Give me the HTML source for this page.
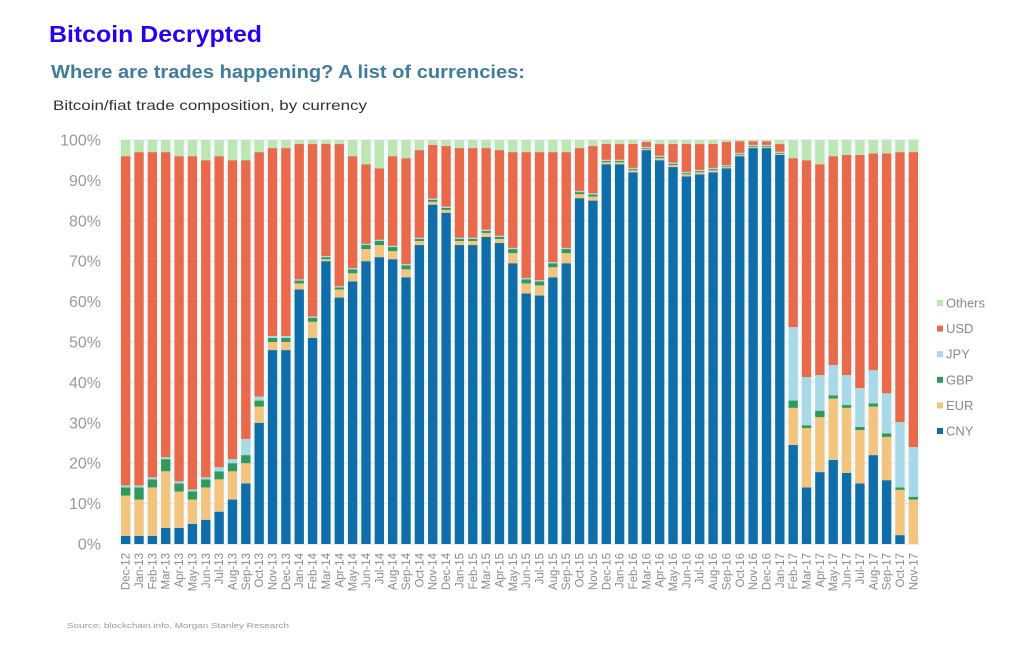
<!DOCTYPE html>
<html><head><meta charset="utf-8">
<style>
html,body{margin:0;padding:0;background:#fff;width:1012px;height:655px;overflow:hidden;font-family:"Liberation Sans",Arial,sans-serif;}
svg{display:block}
</style></head>
<body>
<svg id="chart" width="1012" height="655" viewBox="0 0 1012 655">
<text x="49" y="42" font-size="23" font-weight="bold" fill="#2a00f5" textLength="213" lengthAdjust="spacingAndGlyphs">Bitcoin Decrypted</text>
<text x="51" y="78" font-size="18" font-weight="bold" fill="#3f7c9e" textLength="474" lengthAdjust="spacingAndGlyphs">Where are trades happening? A list of currencies:</text>
<text x="53" y="110" font-size="14" fill="#333" textLength="314" lengthAdjust="spacingAndGlyphs">Bitcoin/fiat trade composition, by currency</text>
<text x="67" y="628" font-size="7.5" fill="#999" textLength="222" lengthAdjust="spacingAndGlyphs">Source: blockchain.info, Morgan Stanley Research</text>
<g id="grid"></g><g id="bars"></g><g id="ylabels"></g><g id="xlabels"></g><g id="legend"></g>
</svg>
<script>
const categories=["Dec-12","Jan-13","Feb-13","Mar-13","Apr-13","May-13","Jun-13","Jul-13","Aug-13","Sep-13","Oct-13","Nov-13","Dec-13","Jan-14","Feb-14","Mar-14","Apr-14","May-14","Jun-14","Jul-14","Aug-14","Sep-14","Oct-14","Nov-14","Dec-14","Jan-15","Feb-15","Mar-15","Apr-15","May-15","Jun-15","Jul-15","Aug-15","Sep-15","Oct-15","Nov-15","Dec-15","Jan-16","Feb-16","Mar-16","Apr-16","May-16","Jun-16","Jul-16","Aug-16","Sep-16","Oct-16","Nov-16","Dec-16","Jan-17","Feb-17","Mar-17","Apr-17","May-17","Jun-17","Jul-17","Aug-17","Sep-17","Oct-17","Nov-17"];
const cny=[2,2,2,4,4,5,6,8,11,15,30,48,48,63,51,70,61,65,70,71,70.5,66,74,84,82,74,74,76,74.5,69.5,62,61.5,66,69.5,85.6,85,94,94,92,97.5,95,93.3,91,91.5,92,93,96,98,98,96.3,24.5,14,17.8,20.8,17.6,15,22,15.8,2.2,0];
const eur=[10,9,12,14,9,6,8,8,7,5,4,2,2,1.5,4,0.5,2,2,3,3,2,2,1,0.7,0.7,1,1,1,1,2.5,2.5,2.5,2.5,2.5,1,1,0.5,0.5,0.5,0.3,0.5,0.5,0.5,0.5,0.5,0.3,0.3,0.3,0.3,0.3,9.2,14.7,13.6,15.2,16.1,13.2,12,10.7,11.2,11];
const gbp=[2,3,2,3,2,2,2,2,2,2,1.5,1,1,0.7,1,0.5,0.5,1,1,1,1,1,0.5,0.5,0.5,0.5,0.5,0.5,0.5,1,1,1,1,1,0.5,0.5,0.3,0.3,0.3,0.2,0.3,0.3,0.3,0.3,0.3,0.2,0.2,0.2,0.2,0.2,1.8,0.7,1.6,0.8,0.7,0.8,0.8,0.9,0.6,0.7];
const jpy=[0.5,0.5,0.5,0.5,0.5,0.5,0.5,1,1,4,1,0.5,0.5,0.3,0.3,0.3,0.3,0.3,0.3,0.3,0.3,0.3,0.3,0.3,0.3,0.3,0.3,0.3,0.3,0.3,0.3,0.3,0.3,0.3,0.3,0.3,0.3,0.3,0.3,0.3,0.3,0.3,0.3,0.3,0.3,0.3,0.3,0.3,0.3,0.3,18.2,11.9,8.8,7.5,7.4,9.6,8.2,9.9,16.2,12.3];
const others=[4,3,3,3,4,4,5,4,5,5,3,2,2,1,1,1,1,4,6,7,4,4.5,2.5,1.2,1.5,2,2,2,2.5,3,3,3,3,3,2,1.5,1,1,1,0.5,1,1,1,1,1,0.5,0.3,0.3,0.3,1,4.5,5,6,4,3.7,3.7,3.3,3.3,3,3];
const yTicks=["0%","10%","20%","30%","40%","50%","60%","70%","80%","90%","100%"];
const seriesNames=["CNY","EUR","GBP","JPY","USD","Others"];
const colors={CNY:"#0f6ea9",EUR:"#f3c47e",GBP:"#2f9a5b",JPY:"#a9d9e6",USD:"#e96a4b",Others:"#bce6b3"};
const NS="http://www.w3.org/2000/svg";
const X0=119,X1=920,Y0=544,Y100=140;
const pitch=(X1-X0)/categories.length,bw=pitch*0.7;
const yScale=v=>Y0-(Y0-Y100)*v/100;
const xScale=i=>X0+i*pitch+(pitch-bw)/2;
function mk(tag,attrs,parent){const e=document.createElementNS(NS,tag);for(const k in attrs)e.setAttribute(k,attrs[k]);parent.appendChild(e);return e;}
const grid=document.getElementById('grid'),bars=document.getElementById('bars'),yl=document.getElementById('ylabels'),xl=document.getElementById('xlabels'),lg=document.getElementById('legend');
const bg=mk('rect',{x:X0,y:Y100,width:X1-X0,height:Y0-Y100,fill:'#f3fafc'},grid);


yTicks.forEach((t,i)=>{
 const v=i*10;
 const ln=mk('line',{x1:X0,x2:X1,y1:yScale(v),y2:yScale(v),stroke:'#e3e3e3','stroke-width':1},grid);
 
 
 const tx=mk('text',{x:101,y:yScale(v)+5.5,'text-anchor':'end','font-size':16,fill:'#9a9a9a'},yl);
 tx.textContent=t;
 
 
});
categories.forEach((c,i)=>{
 const vals={CNY:cny[i],EUR:eur[i],GBP:gbp[i],JPY:jpy[i],Others:others[i]};
 vals.USD=100-cny[i]-eur[i]-gbp[i]-jpy[i]-others[i];
 let acc=0;
 seriesNames.forEach(s=>{
  const v=vals[s];if(v<=0){return;}
  const r=mk('rect',{x:xScale(i),y:yScale(acc+v),width:bw,height:yScale(acc)-yScale(acc+v),fill:colors[s]},bars);
  
  
  acc+=v;
 });
 const cx=xScale(i)+bw/2+4;
 const t=mk('text',{x:cx,y:553,transform:`rotate(-90 ${cx} 553)`,'text-anchor':'end','font-size':11.5,fill:'#8a8a8a'},xl);
 t.textContent=c;
 
 
});
seriesNames.slice().reverse().forEach((s,k)=>{
 const y=303+k*25.6;
 const sq=mk('rect',{x:937,y:y-3,width:6,height:6,fill:colors[s]},lg);
 
 
 const t=mk('text',{x:946,y:y+4.5,'font-size':13,fill:'#8a8a8a'},lg);
 t.textContent=s;
 
 
});
</script>
</body></html>
